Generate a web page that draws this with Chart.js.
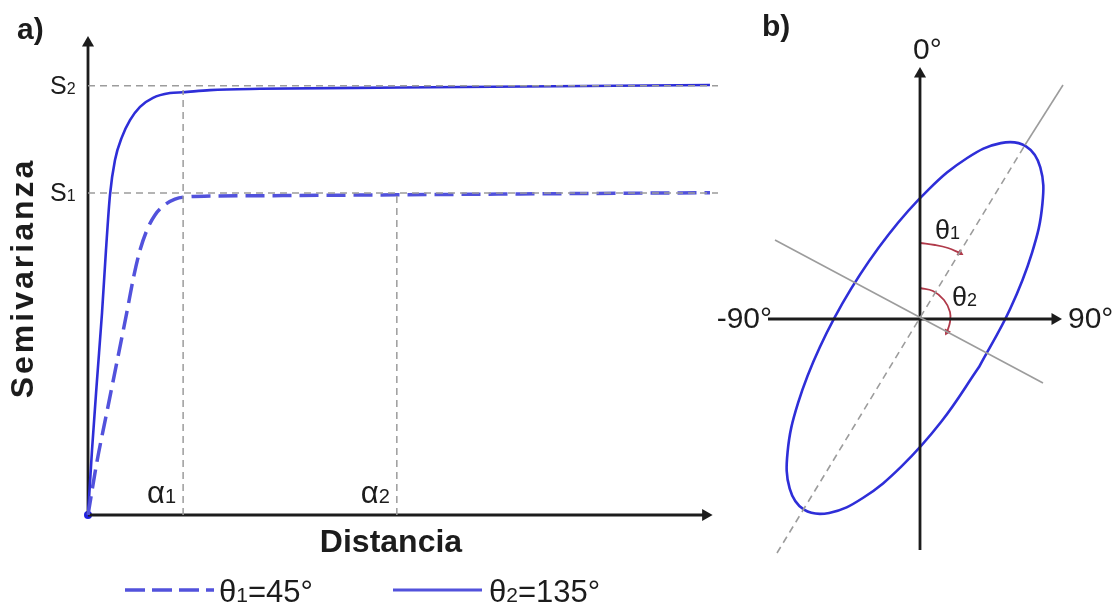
<!DOCTYPE html>
<html>
<head>
<meta charset="utf-8">
<script src="https://cdn.jsdelivr.net/npm/chart.js@4.4.1/dist/chart.umd.min.js"></script>
<style>
  body { margin: 0; background: #fff; }
  #wrapA { position: absolute; left: 0; top: 0; width: 740px; height: 607px; }
  #wrapB { position: absolute; left: 690px; top: 0; width: 428px; height: 607px; }
</style>
</head>
<body>
<div id="wrapA"><canvas id="semiChart" width="740" height="607"></canvas></div>
<div id="wrapB"><canvas id="ellipseChart" width="428" height="607"></canvas></div>
<script>
// panel a: semivariogramas (distancia / semivarianza)
const dist45 = [0, 0.141, 0.303, 0.465, 0.627, 0.745, 0.842, 0.955, 1.085, 1.247, 1.409, 1.571, 1.975, 3, 5, 7, 10.07];
const semi45 = [0, 0.121, 0.238, 0.354, 0.471, 0.559, 0.617, 0.664, 0.699, 0.723, 0.736, 0.741, 0.743, 0.744, 0.746, 0.748, 0.751];
const dist135 = [0, 0.065, 0.146, 0.227, 0.291, 0.356, 0.437, 0.551, 0.68, 0.842, 1.052, 1.328, 1.538, 1.975, 2.785, 5.05, 10.07];
const semi135 = [0, 0.151, 0.315, 0.471, 0.617, 0.746, 0.827, 0.881, 0.92, 0.951, 0.972, 0.983, 0.985, 0.99, 0.993, 0.996, 1.002];
const sills = [0.75, 1.0];        // S1, S2
const ranges = [1.54, 5.0];       // α1, α2
const sillLabels = ['1', '2'];
const rangeLabels = ['1', '2'];
const legendLabels = ['=45°', '=135°'];
const distMax = 10.2;
const axisEndX = 10, axisEndY = 1.1;

const ellipseX = [0.590, 0.216, -0.185, -0.572, -0.908, -1.160, -1.303, -1.324, -1.220, -1.001, -0.690, -0.316, 0.085, 0.472, 0.808, 1.060, 1.203, 1.224, 1.120, 0.901, 0.590];
const ellipseY = [-0.481, -1.023, -1.474, -1.790, -1.939, -1.907, -1.697, -1.330, -0.842, -0.280, 0.301, 0.843, 1.294, 1.610, 1.759, 1.727, 1.517, 1.150, 0.662, 0.100, -0.481];
const majorDashX = [-1.43, 1.05], majorDashY = [-2.34, 1.74];
const majorSolidX = [1.05, 1.43], majorSolidY = [1.74, 2.34];
const minorX = [-1.45, 1.23], minorY = [0.79, -0.64];
const arc1X = [0, 0.15, 0.28, 0.40], arc1Y = [0.76, 0.74, 0.71, 0.66];
const arc2X = [0, 0.13, 0.24, 0.30, 0.30, 0.27], arc2Y = [0.31, 0.28, 0.19, 0.07, -0.03, -0.13];
const hAxis = [-1.52, 1.35], vAxis = [-2.31, 2.45];

const FONT = '"Liberation Sans", Arial, sans-serif';
const INK = '#1c1c1c';
const BLUE = '#2e2ed8';
const BLUE_D = '#5252dc';
const GRAY = '#9c9c9c';
const RED = '#b03a4a';

const pts = (xs, ys) => xs.map((x, i) => ({ x, y: ys[i] }));

function lineSet(data, color, width, dash, extra) {
    return Object.assign({
        data, showLine: true, borderColor: color, borderWidth: width,
        borderDash: dash || [], pointRadius: 0, clip: false, tension: 0,
    }, extra || {});
}

function arrowSet(data, rotation) {
    return lineSet(data, INK, 2.8, [], {
        pointRadius: [0, 7], pointStyle: 'triangle', pointRotation: [0, rotation],
        pointBackgroundColor: INK, pointBorderWidth: 0,
    });
}

function withSub(ctx, main, sub, tail, x, y, size, subSize) {
    ctx.textAlign = 'left';
    ctx.textBaseline = 'alphabetic';
    ctx.font = `${size}px ${FONT}`;
    ctx.fillText(main, x, y);
    x += ctx.measureText(main).width;
    ctx.font = `${subSize}px ${FONT}`;
    ctx.fillText(sub, x, y);
    x += ctx.measureText(sub).width;
    if (tail) {
        ctx.font = `${size}px ${FONT}`;
        ctx.fillText(tail, x, y);
    }
}

const labelsA = {
    id: 'labelsA',
    afterDraw(chart) {
        const { ctx, scales: { x, y } } = chart;
        ctx.save();
        ctx.fillStyle = INK;
        ctx.font = `bold 30px ${FONT}`;
        ctx.textBaseline = 'middle';
        ctx.fillText('a)', 17, 31);

        sills.forEach((s, i) => withSub(ctx, 'S', sillLabels[i], '', 50, y.getPixelForValue(s) + 8, 25, 16));
        ranges.forEach((r, i) => withSub(ctx, 'α', rangeLabels[i], '', x.getPixelForValue(r) - 36, 503, 31, 20));

        ctx.font = `bold 32px ${FONT}`;
        ctx.textAlign = 'center';
        ctx.textBaseline = 'alphabetic';
        ctx.fillText('Distancia', 391, 552);

        ctx.save();
        ctx.translate(24, 278);
        ctx.rotate(-Math.PI / 2);
        ctx.letterSpacing = '3px';
        ctx.textBaseline = 'middle';
        ctx.fillText('Semivarianza', 0, 0);
        ctx.restore();

        // leyenda
        ctx.lineWidth = 3.5;
        ctx.strokeStyle = BLUE_D;
        ctx.setLineDash([20, 7]);
        ctx.beginPath(); ctx.moveTo(125, 590); ctx.lineTo(214, 590); ctx.stroke();
        ctx.setLineDash([]);
        ctx.lineWidth = 3;
        ctx.beginPath(); ctx.moveTo(393, 590); ctx.lineTo(482, 590); ctx.stroke();
        withSub(ctx, 'θ', '1', legendLabels[0], 219, 602, 31, 21);
        withSub(ctx, 'θ', '2', legendLabels[1], 489, 602, 31, 21);
        ctx.restore();
    }
};

const labelsB = {
    id: 'labelsB',
    afterDraw(chart) {
        const { ctx, scales: { x, y } } = chart;
        const ox = chart.canvas.parentNode.offsetLeft;
        ctx.save();
        ctx.fillStyle = INK;
        ctx.font = `bold 30px ${FONT}`;
        ctx.textBaseline = 'middle';
        ctx.fillText('b)', 762 - ox, 28);

        ctx.font = `30px ${FONT}`;
        ctx.textAlign = 'left';
        ctx.fillText('0°', x.getPixelForValue(-0.07), 51);
        ctx.textAlign = 'right';
        ctx.fillText('-90°', x.getPixelForValue(-1.48), y.getPixelForValue(0) + 1);
        ctx.textAlign = 'left';
        ctx.fillText('90°', x.getPixelForValue(1.48), y.getPixelForValue(0) + 1);

        withSub(ctx, 'θ', '1', '', x.getPixelForValue(0.15), 239, 27, 18);
        withSub(ctx, 'θ', '2', '', x.getPixelForValue(0.32), 306, 27, 18);
        ctx.restore();
    }
};

new Chart(document.getElementById('semiChart'), {
    type: 'scatter',
    data: {
        datasets: [
            lineSet([{ x: 0, y: sills[1] }, { x: distMax, y: sills[1] }], GRAY, 1.5, [7, 5]),
            lineSet([{ x: 0, y: sills[0] }, { x: distMax, y: sills[0] }], GRAY, 1.5, [7, 5]),
            lineSet([{ x: ranges[0], y: 0 }, { x: ranges[0], y: 0.99 }], GRAY, 1.5, [7, 5]),
            lineSet([{ x: ranges[1], y: 0 }, { x: ranges[1], y: 0.745 }], GRAY, 1.5, [7, 5]),
            lineSet(pts(dist45, semi45), BLUE_D, 3.5, [19, 8], { cubicInterpolationMode: 'monotone' }),
            lineSet(pts(dist135, semi135), BLUE, 2.6, [], { cubicInterpolationMode: 'monotone' }),
            arrowSet([{ x: 0, y: 0 }, { x: axisEndX, y: 0 }], 90),
            arrowSet([{ x: 0, y: 0 }, { x: 0, y: axisEndY }], 0),
            { data: [{ x: 0, y: 0 }], pointRadius: 4, pointBackgroundColor: '#2020e0', pointBorderWidth: 0, clip: false },
        ]
    },
    options: {
        responsive: false,
        animation: false,
        events: [],
        layout: { padding: { left: 88, right: 22, top: 30, bottom: 92 } },
        scales: {
            x: { type: 'linear', min: 0, max: distMax, display: false },
            y: { type: 'linear', min: 0, max: 1.13, display: false },
        },
        plugins: { legend: { display: false }, tooltip: { enabled: false } },
    },
    plugins: [labelsA],
});

new Chart(document.getElementById('ellipseChart'), {
    type: 'scatter',
    data: {
        datasets: [
            lineSet(pts(minorX, minorY), GRAY, 1.6),
            lineSet(pts(majorDashX, majorDashY), GRAY, 1.6, [7, 5]),
            lineSet(pts(majorSolidX, majorSolidY), GRAY, 1.6),
            arrowSet([{ x: hAxis[0], y: 0 }, { x: hAxis[1], y: 0 }], 90),
            arrowSet([{ x: 0, y: vAxis[0] }, { x: 0, y: vAxis[1] }], 0),
            lineSet(pts(ellipseX, ellipseY), BLUE, 2.6, [], { tension: 0.4 }),
            lineSet(pts(arc1X, arc1Y), RED, 1.8, [], {
                tension: 0.4, pointRadius: [0, 0, 0, 4], pointStyle: 'triangle',
                pointRotation: 121, pointBackgroundColor: RED, pointBorderWidth: 0,
            }),
            lineSet(pts(arc2X, arc2Y), RED, 1.8, [], {
                tension: 0.4, pointRadius: [0, 0, 0, 0, 0, 4], pointStyle: 'triangle',
                pointRotation: 208, pointBackgroundColor: RED, pointBorderWidth: 0,
            }),
        ]
    },
    options: {
        responsive: false,
        animation: false,
        events: [],
        layout: { padding: { left: 10, right: 8, top: 29, bottom: 38 } },
        scales: {
            x: { type: 'linear', min: -2.2, max: 1.9, display: false },
            y: { type: 'linear', min: -2.5, max: 2.9, display: false },
        },
        plugins: { legend: { display: false }, tooltip: { enabled: false } },
    },
    plugins: [labelsB],
});
</script>
</body>
</html>
